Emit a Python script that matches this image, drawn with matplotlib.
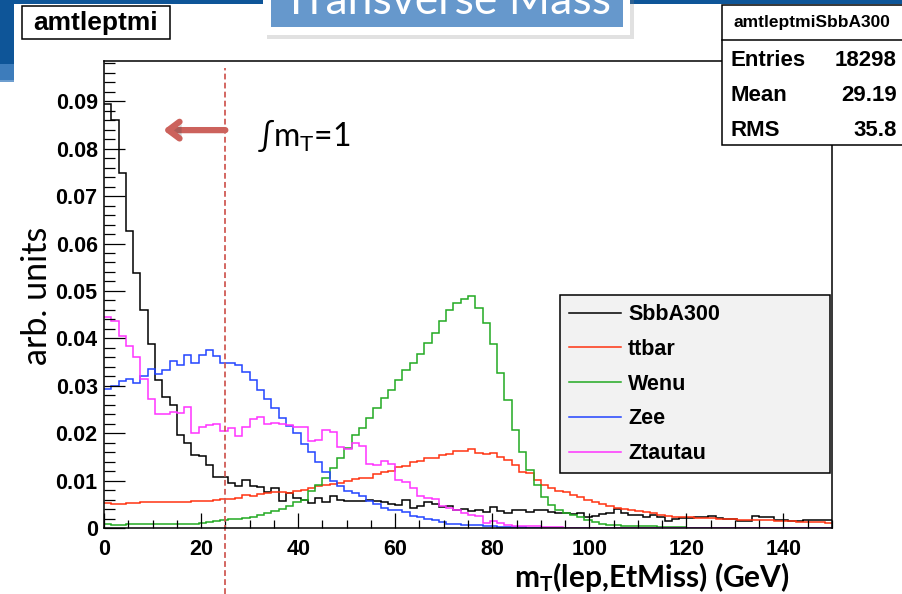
import numpy as np
import matplotlib.pyplot as plt
import matplotlib.patheffects as pe
from matplotlib.lines import Line2D
from matplotlib.patches import Rectangle
from matplotlib.ticker import MultipleLocator, FuncFormatter

plt.rcParams['font.family'] = 'Liberation Sans'
plt.rcParams['mathtext.fontset'] = 'custom'
plt.rcParams['mathtext.rm'] = 'Lato'
plt.rcParams['mathtext.bf'] = 'Lato:bold'
plt.rcParams['mathtext.it'] = 'Lato:italic'

# transverse mass binning: 100 bins of 1.5 GeV
MT_EDGES = np.linspace(0, 150, 101)
CUT_MT = 25

SAMPLES = ['SbbA300', 'ttbar', 'Wenu', 'Zee', 'Ztautau']
COLORS = ['#000000', '#ff3311', '#22aa22', '#2244ff', '#ff33ff']

sbba300 = [0.0895, 0.0860, 0.0749, 0.0626, 0.0537, 0.0460, 0.0389, 0.0312, 0.0277, 0.0259,
           0.0196, 0.0179, 0.0154, 0.0151, 0.0133, 0.0108, 0.0108, 0.0094, 0.0089, 0.0101,
           0.0088, 0.0086, 0.0075, 0.0084, 0.0056, 0.0074, 0.0063, 0.0060, 0.0053, 0.0063,
           0.0054, 0.0067, 0.0060, 0.0056, 0.0058, 0.0056, 0.0060, 0.0056, 0.0054, 0.0051,
           0.0048, 0.0059, 0.0043, 0.0046, 0.0055, 0.0050, 0.0045, 0.0046, 0.0038, 0.0041,
           0.0036, 0.0038, 0.0034, 0.0044, 0.0036, 0.0032, 0.0038, 0.0039, 0.0033, 0.0038,
           0.0039, 0.0033, 0.0031, 0.0032, 0.0030, 0.0031, 0.0024, 0.0026, 0.0029, 0.0031,
           0.0040, 0.0031, 0.0027, 0.0028, 0.0024, 0.0027, 0.0024, 0.0014, 0.0019, 0.0022,
           0.0022, 0.0024, 0.0024, 0.0025, 0.0022, 0.0018, 0.0018, 0.0015, 0.0015, 0.0025,
           0.0024, 0.0024, 0.0016, 0.0016, 0.0014, 0.0014, 0.0016, 0.0017, 0.0017, 0.0016]

ttbar = [0.0053, 0.0051, 0.0051, 0.0052, 0.0053, 0.0055, 0.0054, 0.0055, 0.0054, 0.0055,
         0.0054, 0.0055, 0.0057, 0.0057, 0.0058, 0.0060, 0.0062, 0.0062, 0.0064, 0.0069,
         0.0067, 0.0071, 0.0073, 0.0075, 0.0076, 0.0074, 0.0078, 0.0081, 0.0085, 0.0088,
         0.0091, 0.0092, 0.0095, 0.0100, 0.0104, 0.0105, 0.0106, 0.0113, 0.0118, 0.0120,
         0.0129, 0.0130, 0.0140, 0.0142, 0.0148, 0.0147, 0.0153, 0.0157, 0.0162, 0.0163,
         0.0166, 0.0159, 0.0156, 0.0159, 0.0150, 0.0143, 0.0133, 0.0119, 0.0117, 0.0101,
         0.0091, 0.0084, 0.0078, 0.0075, 0.0070, 0.0065, 0.0060, 0.0055, 0.0050, 0.0046,
         0.0043, 0.0040, 0.0038, 0.0035, 0.0034, 0.0031, 0.0027, 0.0026, 0.0024, 0.0024,
         0.0023, 0.0022, 0.0022, 0.0021, 0.0020, 0.0018, 0.0018, 0.0017, 0.0017, 0.0016,
         0.0016, 0.0016, 0.0015, 0.0014, 0.0014, 0.0013, 0.0013, 0.0012, 0.0012, 0.0011]

wenu = [0.0009, 0.0006, 0.0007, 0.0008, 0.0008, 0.0008, 0.0008, 0.0008, 0.0008, 0.0008,
        0.0008, 0.0009, 0.0009, 0.0011, 0.0012, 0.0015, 0.0016, 0.0018, 0.0020, 0.0021,
        0.0024, 0.0028, 0.0031, 0.0035, 0.0040, 0.0046, 0.0054, 0.0060, 0.0077, 0.0091,
        0.0105, 0.0126, 0.0148, 0.0169, 0.0197, 0.0211, 0.0232, 0.0253, 0.0274, 0.0292,
        0.0313, 0.0334, 0.0347, 0.0368, 0.0391, 0.0412, 0.0437, 0.0460, 0.0474, 0.0484,
        0.0490, 0.0465, 0.0433, 0.0388, 0.0327, 0.0270, 0.0207, 0.0160, 0.0122, 0.0091,
        0.0066, 0.0048, 0.0038, 0.0031, 0.0027, 0.0023, 0.0017, 0.0012, 0.0009, 0.0007,
        0.0006, 0.0005, 0.0004, 0.0004, 0.0004, 0.0004, 0.0003, 0.0003, 0.0003, 0.0003,
        0.0, 0.0, 0.0, 0.0, 0.0, 0.0, 0.0, 0.0, 0.0, 0.0,
        0.0, 0.0, 0.0, 0.0, 0.0, 0.0, 0.0, 0.0, 0.0, 0.0]

zee = [0.0294, 0.0299, 0.0310, 0.0314, 0.0305, 0.0320, 0.0336, 0.0325, 0.0334, 0.0353,
       0.0344, 0.0365, 0.0348, 0.0365, 0.0376, 0.0362, 0.0348, 0.0349, 0.0344, 0.0328,
       0.0312, 0.0292, 0.0272, 0.0253, 0.0233, 0.0215, 0.0200, 0.0178, 0.0161, 0.0139,
       0.0119, 0.0100, 0.0088, 0.0078, 0.0074, 0.0067, 0.0058, 0.0051, 0.0043, 0.0039,
       0.0037, 0.0034, 0.0026, 0.0023, 0.0019, 0.0016, 0.0012, 0.0009, 0.0009, 0.0006,
       0.0006, 0.0006, 0.0004, 0.0004, 0.0003, 0.0002, 0.0002, 0.0002, 0.0001, 0.0001,
       0.0001, 0.0001, 0.0, 0.0001, 0.0, 0.0001, 0.0, 0.0, 0.0001, 0.0,
       0.0, 0.0, 0.0, 0.0, 0.0, 0.0, 0.0, 0.0, 0.0, 0.0,
       0.0, 0.0, 0.0, 0.0, 0.0, 0.0, 0.0, 0.0, 0.0, 0.0,
       0.0, 0.0, 0.0, 0.0, 0.0, 0.0, 0.0, 0.0, 0.0, 0.0]

ztautau = [0.0446, 0.0436, 0.0404, 0.0383, 0.0361, 0.0314, 0.0272, 0.0241, 0.0241, 0.0244,
           0.0242, 0.0256, 0.0200, 0.0214, 0.0218, 0.0220, 0.0204, 0.0211, 0.0195, 0.0212,
           0.0230, 0.0235, 0.0220, 0.0222, 0.0219, 0.0217, 0.0214, 0.0214, 0.0183, 0.0186,
           0.0206, 0.0202, 0.0170, 0.0167, 0.0179, 0.0172, 0.0136, 0.0132, 0.0141, 0.0134,
           0.0102, 0.0098, 0.0084, 0.0067, 0.0063, 0.0061, 0.0047, 0.0042, 0.0039, 0.0032,
           0.0028, 0.0026, 0.0011, 0.0014, 0.0011, 0.0007, 0.0005, 0.0005, 0.0005, 0.0004,
           0.0003, 0.0002, 0.0002, 0.0001, 0.0001, 0.0001, 0.0, 0.0, 0.0, 0.0,
           0.0, 0.0, 0.0, 0.0, 0.0, 0.0, 0.0, 0.0, 0.0, 0.0,
           0.0, 0.0, 0.0, 0.0, 0.0, 0.0, 0.0, 0.0, 0.0, 0.0,
           0.0, 0.0, 0.0, 0.0, 0.0, 0.0, 0.0, 0.0, 0.0, 0.0]

HISTS = [sbba300, ttbar, wenu, zee, ztautau]

STATS_NAME = 'amtleptmiSbbA300'
STATS = [('Entries', '18298'), ('Mean', '29.19'), ('RMS', '35.8')]

W, H = 902, 594


def fig_xy(x, y):
    # pixel position (from top-left) -> figure fraction
    return x / W, 1 - y / H


def fig_rect(x0, y0, x1, y1, **kw):
    fx, fy = fig_xy(x0, y1)
    r = Rectangle((fx, fy), (x1 - x0) / W, (y1 - y0) / H,
                  transform=fig.transFigure, **kw)
    fig.add_artist(r)
    return r


fig = plt.figure(figsize=(W / 100, H / 100), dpi=100)
ax = fig.add_axes([104 / W, 66 / H, 728 / W, 467 / H])

for vals, color in zip(HISTS, COLORS):
    ax.stairs(vals, MT_EDGES, color=color, lw=1.1, baseline=None)

ax.set_xlim(0, 150)
ax.set_ylim(0, 0.0985)
for s in ax.spines.values():
    s.set_linewidth(1.1)

ax.xaxis.set_major_locator(MultipleLocator(20))
ax.xaxis.set_minor_locator(MultipleLocator(5))
ax.yaxis.set_major_locator(MultipleLocator(0.01))
ax.yaxis.set_minor_locator(MultipleLocator(0.002))
ax.yaxis.set_major_formatter(FuncFormatter(lambda v, _: '0' if abs(v) < 1e-9 else f'{v:.2f}'))
ax.tick_params(which='both', direction='in', top=False, right=False, width=0.9)
ax.tick_params(axis='y', which='major', length=15, pad=4.5)
ax.tick_params(axis='y', which='minor', length=8)
ax.tick_params(axis='x', which='major', length=11, pad=8)
ax.tick_params(axis='x', which='minor', length=5.5)
for lab in ax.get_xticklabels() + ax.get_yticklabels():
    lab.set_fontweight('bold')
    lab.set_fontsize(15.5)

# cut line and arrow
ax.axvline(CUT_MT, ymin=-0.141, ymax=0.985, color='#d05a55', lw=1.3,
           ls=(0, (3.2, 1.8)), clip_on=False)
ax.annotate('', xy=(12.2, 0.852), xytext=(CUT_MT, 0.852),
            xycoords=('data', 'axes fraction'), textcoords=('data', 'axes fraction'),
            arrowprops=dict(arrowstyle='->,head_length=0.8,head_width=0.6', lw=4.5,
                            color='#cc625c', shrinkA=0, shrinkB=0,
                            path_effects=[pe.withSimplePatchShadow(offset=(1.5, -2), alpha=0.25)]))
fig.text(*fig_xy(257, 135), r'∫m$_{\mathrm{T}}$=1', family='Lato', fontsize=23,
         ha='left', va='center')

handles = [Line2D([], [], color=c, lw=1.1) for c in COLORS]
x0 = (560 - 104) / 728
y1 = (528 - 295) / 467
leg = ax.legend(handles, SAMPLES, loc='upper left', bbox_to_anchor=(x0, y1, 0.997 - x0, 0.0),
                mode='expand', fancybox=False, framealpha=1, facecolor='#f2f2f2',
                edgecolor='black', prop=dict(family='Liberation Sans', weight='bold', size=15.5),
                handlelength=2.4, handletextpad=0.35, labelspacing=0.64, borderpad=0.42,
                borderaxespad=0)
leg.get_frame().set_linewidth(1.1)

# axis titles
fig.text(*fig_xy(37, 296), 'arb. units', rotation=90, family='Lato', fontsize=24.5,
         ha='center', va='center')
fig.text(*fig_xy(790, 577), r'$\mathbf{m_T}$(lep,EtMiss) (GeV)', family='Lato',
         weight='bold', fontsize=21.5, ha='right', va='center')

# histogram title box
fig_rect(22, 6, 170, 39, facecolor='white', edgecolor='black', lw=1.1)
fig.text(*fig_xy(96, 23), 'amtleptmi', weight='bold', fontsize=19, ha='center', va='center')

# stats box
fig_rect(722, 5, 906, 145, facecolor='white', edgecolor='black', lw=1.1)
fig.add_artist(Line2D([722 / W, 1], [1 - 40 / H] * 2, color='black', lw=1.1,
                      transform=fig.transFigure))
fig.text(*fig_xy(812, 23), STATS_NAME, weight='bold', fontsize=12.5, ha='center', va='center')
for i, (name, val) in enumerate(STATS):
    yy = 61 + 34.5 * i
    fig.text(*fig_xy(731, yy), name, weight='bold', fontsize=16, ha='left', va='center')
    fig.text(*fig_xy(897, yy), val, weight='bold', fontsize=16, ha='right', va='center')

# slide header pieces
fig_rect(0, 0, 902, 4, facecolor='#0e5598', edgecolor='none')
fig_rect(0, 0, 14, 80, facecolor='#0e5598', edgecolor='none')
fig_rect(0, 64, 14, 82, facecolor='#4a86c4', edgecolor='none', alpha=0.8)
fig_rect(267, -10, 634, 39, facecolor='#888888', edgecolor='none', alpha=0.25)
fig_rect(263, -10, 630, 35, facecolor='white', edgecolor='none')
fig_rect(271, -10, 623, 27, facecolor='#6698cc', edgecolor='none')
fig.text(*fig_xy(447, 14), 'Transverse Mass', family='Lato', color='white', fontsize=32,
         ha='center', va='baseline')

fig.savefig('out.png', dpi=100, facecolor='white')
